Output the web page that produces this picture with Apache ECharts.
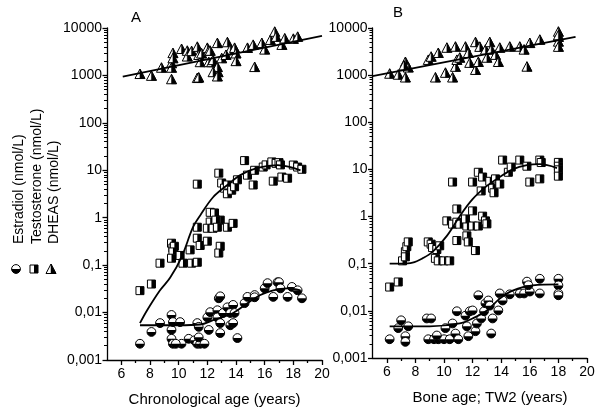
<!DOCTYPE html>
<html><head><meta charset="utf-8">
<script src="https://cdn.jsdelivr.net/npm/echarts@6/dist/echarts.min.js"></script>
<style>html,body{margin:0;padding:0;background:#fff}#c{width:600px;height:418px}</style>
</head><body><div id="c"></div>
<script>
// ---------- tick labels ----------
const yTickLabels = ['0,001', '0,01', '0,1', '1', '10', '100', '1000', '10000'];
const xTickValues = [6, 8, 10, 12, 14, 16, 18, 20];
const xMinorValues = [7, 9, 11, 13, 15, 17, 19];
const panelLabels = ['A', 'B'];
const xAxisNames = ['Chronological age (years)', 'Bone age; TW2 (years)'];
const legendNames = ['Estradiol (nmol/L)', 'Testosterone (nmol/L)', 'DHEAS (nmol/L)'];

// ---------- Panel A: chronological age ----------
const dheasA_age = [7.3,8.1,8.8,9.5,9.5,9.6,9.6,9.5,10.2,10.6,10.6,10.9,11.3,11.3,11.4,11.4,11.5,11.6,12.0,12.1,12.1,12.2,12.3,12.4,12.7,12.75,12.7,13.0,13.4,13.6,13.3,13.9,14.0,14.0,14.8,15.3,15.2,15.8,16.0,16.4,16.7,16.8,17.2,17.4,18.0,18.3,12.4,12.7];
const dheasA_val = [1070,980,1450,830,1800,2950,2300,1450,3600,3300,2500,3250,4000,880,900,2700,1900,2900,3800,3300,1900,3300,1900,2100,4800,1170,1500,2300,5000,3500,2700,3800,2900,2000,3800,1500,4400,4800,3500,5600,8300,6500,4400,6000,5900,6500,1170,950];

const testoA_age = [7.3,8.1,8.7,9.5,9.6,9.7,9.6,9.5,10.1,10.3,10.9,11.3,10.8,11.3,11.3,11.5,12.0,11.3,12.2,12.5,12.2,12.9,12.6,12.0,12.4,12.7,12.9,12.8,13.4,13.8,12.8,13.0,13.2,13.4,13.4,13.7,13.9,14.1,14.6,14.8,15.2,15.3,15.9,16.1,16.5,16.8,17.0,17.1,16.6,17.2,17.6,18.0,18.3,18.6];
const testoA_val = [0.029,0.040,0.11,0.29,0.23,0.25,0.19,0.14,0.16,0.11,0.11,0.115,0.21,0.63,0.37,0.26,0.32,5.1,1.3,1.26,0.81,0.89,0.89,0.6,0.6,0.63,0.25,0.18,0.63,0.76,8.7,5.4,4.2,4.9,3.2,3.8,4.5,6.3,16,7.9,4.9,10,11.7,13,15,14,14.5,13,5.9,7.2,6.8,12.9,11.7,10.5];

const estrA_age = [7.3,8.1,8.7,9.5,9.5,9.6,10.1,9.5,9.6,10.2,9.8,10.7,11.1,11.3,11.5,11.4,11.3,11.4,12.0,12.1,11.8,12.2,12.7,12.8,12.9,12.7,12.9,13.1,13.4,13.6,13.8,13.9,13.6,13.8,14.1,12.9,14.6,14.8,15.3,15.3,16.0,16.2,16.6,16.9,17.0,17.1,17.6,17.9,18.3,18.6];
const estrA_val = [0.0022,0.0039,0.006,0.0089,0.0043,0.0063,0.0063,0.0028,0.0022,0.0022,0.0022,0.0028,0.0026,0.0022,0.0022,0.003,0.006,0.005,0.0079,0.0043,0.0022,0.0102,0.0112,0.02,0.022,0.0079,0.006,0.0098,0.0129,0.0098,0.0145,0.0098,0.0054,0.006,0.0029,0.0037,0.0158,0.0214,0.0234,0.021,0.0324,0.0417,0.0214,0.0437,0.0437,0.0324,0.0214,0.0347,0.0295,0.02];

// fitted curves, panel A
const dheasFitA_age = [6.1, 20];
const dheasFitA_val = [940, 6800];
const testoFitA_age = [7.3,7.8,8.7,9.4,10.2,11.0,11.5,12.4,13.4,14.3,15.5,16.9,17.8,18.5];
const testoFitA_val = [0.006,0.0112,0.0295,0.054,0.148,0.63,1.12,2.7,4.9,7.9,11.2,12.9,11.7,10];
const estrFitA_age = [7.3,10.0,11.5,12.4,13.8,14.8,15.7,16.6,17.6,18.5];
const estrFitA_val = [0.0054,0.0054,0.0056,0.0069,0.0098,0.0158,0.0234,0.0295,0.0324,0.0295];

// ---------- Panel B: bone age ----------
const dheasB_age = [6.2,6.8,7.3,7.3,7.5,7.2,8.9,9.1,9.4,9.6,10.1,10.2,10.6,10.8,10.8,10.9,11.1,11.5,11.7,11.8,12.2,12.2,12.4,12.5,12.9,13.0,13.2,13.3,13.6,13.8,13.9,14.6,15.3,15.8,15.6,16.0,16.7,18.0,18.0,18.0,18.0,18.0];
const dheasB_val = [1070,1020,1900,890,1450,1600,2100,2450,890,2950,1120,3800,890,4000,1500,2100,2340,4000,2950,1820,5000,1290,1900,3980,3470,2340,5000,3470,2690,1900,3800,4000,4000,1510,3470,4790,5620,8320,6460,5130,3980,7000];

const testoB_age = [6.2,6.8,7.1,7.3,7.4,7.5,7.3,8.9,9.1,9.2,9.4,9.5,9.7,9.6,10.0,10.4,10.2,10.6,10.6,10.9,10.9,10.9,11.1,11.6,11.5,11.6,11.7,12.0,12.2,12.0,12.4,12.0,12.4,12.7,12.6,12.7,12.9,13.0,13.2,13.4,13.5,13.6,13.9,14.1,14.5,14.7,15.3,15.8,16.0,16.7,16.7,16.8,18.0,18.0,18.0,18.0];
const testoB_val = [0.032,0.041,0.115,0.18,0.23,0.29,0.14,0.29,0.26,0.22,0.13,0.2,0.24,0.115,0.115,0.115,0.81,5.4,0.69,1.45,0.76,0.31,0.69,0.63,0.89,0.39,0.29,1.32,0.19,0.63,0.63,5.4,8.7,6.9,3.5,1.02,0.81,0.7,5.6,4.0,3.2,6.3,4.9,15.8,8.7,11.2,15.8,11.7,5.4,6.3,15.8,14,14.1,11.7,9.8,7.2];

const estrB_age = [6.2,6.8,7.0,7.3,7.3,7.5,8.8,9.1,8.9,9.3,9.6,10.0,10.4,9.5,10.1,10.6,10.8,10.9,11.0,11.5,11.6,11.7,11.8,12.0,12.2,12.3,12.4,12.6,12.8,12.9,13.1,13.2,13.3,13.4,13.8,13.9,14.1,14.6,15.3,15.6,16.0,15.8,15.9,16.7,16.7,18.0,18.0,18.0,18.0];
const estrB_val = [0.0025,0.0043,0.0063,0.0029,0.0022,0.0047,0.0069,0.0069,0.0025,0.0025,0.0025,0.0025,0.0025,0.003,0.0043,0.0054,0.0033,0.0098,0.0025,0.0079,0.0047,0.0029,0.0098,0.0102,0.0037,0.0054,0.0214,0.0069,0.0098,0.0145,0.0166,0.0129,0.0033,0.0069,0.0102,0.0234,0.0166,0.0224,0.0234,0.0234,0.0257,0.0417,0.035,0.0479,0.0234,0.0479,0.0347,0.0234,0.0214];

// fitted curves, panel B
const dheasFitB_age = [5.0, 19.2];
const dheasFitB_val = [950, 6500];
const testoFitB_age = [6.2,7.0,7.8,8.5,9.2,10.2,11.1,12.0,13.0,13.9,14.8,15.8,16.7,17.9];
const testoFitB_val = [0.1,0.1,0.105,0.13,0.178,0.39,1.02,2.34,4.47,6.9,10,12.3,12.9,10.7];
const estrFitB_age = [6.2,9.0,11.1,12.0,13.0,13.9,14.8,16.2,18.0];
const estrFitB_val = [0.0047,0.0047,0.0054,0.0069,0.0102,0.0182,0.0269,0.0347,0.0363];

// ---------- helpers ----------
const FONT = '"Liberation Sans", Arial, sans-serif';
function zip(a, b) { return a.map((v, i) => [v, b[i]]); }

function buildMarker(kind, x, y) {
  if (kind === 'circle') {
    const r = 4.4;
    return { type: 'group', children: [
      { type: 'circle', shape: { cx: x, cy: y, r: r }, style: { fill: '#fff', stroke: '#000', lineWidth: 1 } },
      { type: 'sector', shape: { cx: x, cy: y, r0: 0, r: r, startAngle: 0, endAngle: Math.PI, clockwise: true }, style: { fill: '#000' } }
    ]};
  }
  if (kind === 'square') {
    const h = 4;
    return { type: 'group', children: [
      { type: 'rect', shape: { x: x - h, y: y - h, width: 2 * h, height: 2 * h }, style: { fill: '#fff', stroke: '#000', lineWidth: 1 } },
      { type: 'rect', shape: { x: x, y: y - h, width: h, height: 2 * h }, style: { fill: '#000' } }
    ]};
  }
  return { type: 'group', children: [
    { type: 'polygon', shape: { points: [[x, y - 5], [x - 5, y + 4.5], [x + 5, y + 4.5]] }, style: { fill: '#fff', stroke: '#000', lineWidth: 1 } },
    { type: 'polygon', shape: { points: [[x, y - 5], [x, y + 4.5], [x + 5, y + 4.5]] }, style: { fill: '#000', stroke: '#000', lineWidth: 0.5 } }
  ]};
}

function scatterSeries(kind, ages, vals, xIdx, yIdx) {
  return {
    type: 'custom', xAxisIndex: xIdx, yAxisIndex: yIdx, z: 2,
    data: zip(ages, vals),
    encode: { x: 0, y: 1 },
    renderItem: function (params, api) {
      const p = api.coord([api.value(0), api.value(1)]);
      return buildMarker(kind, p[0], p[1]);
    }
  };
}

function fitSeries(ages, vals, xIdx, yIdx) {
  return {
    type: 'line', xAxisIndex: xIdx, yAxisIndex: yIdx, z: 3,
    data: zip(ages, vals), smooth: 0.35, showSymbol: false, symbol: 'none',
    lineStyle: { color: '#000', width: 1.8 }
  };
}

const axisLineStyle = { color: '#000', width: 1.3 };

function xAxesFor(gridIndex, name) {
  return [
    { type: 'value', gridIndex, min: 5, max: 20, position: 'bottom',
      axisLine: { show: true, onZero: false, lineStyle: axisLineStyle },
      axisTick: { show: true, customValues: xTickValues, length: 5, lineStyle: axisLineStyle },
      axisLabel: { show: true, customValues: xTickValues, color: '#000', fontSize: 14, fontFamily: FONT, margin: 7 },
      splitLine: { show: false },
      name: name, nameLocation: 'middle', nameGap: 32,
      nameTextStyle: { color: '#000', fontSize: 15, fontFamily: FONT } },
    { type: 'value', gridIndex, min: 5, max: 20, position: 'bottom',
      axisLine: { show: false, onZero: false },
      axisTick: { show: true, customValues: xMinorValues, length: 3, lineStyle: axisLineStyle },
      axisLabel: { show: false }, splitLine: { show: false } }
  ];
}
function yAxisFor(gridIndex) {
  return { type: 'log', logBase: 10, gridIndex, min: 0.001, max: 10000, interval: 1, position: 'left',
    axisLine: { show: true, onZero: false, lineStyle: axisLineStyle },
    axisTick: { show: true, length: 4.5, lineStyle: axisLineStyle },
    minorTick: { show: true, splitNumber: 9, length: 3, lineStyle: { color: '#000', width: 1 } },
    axisLabel: { show: true, color: '#000', fontSize: 14, fontFamily: FONT, margin: 5,
      formatter: function (v) { return yTickLabels[Math.round(Math.log10(v)) + 3]; } },
    splitLine: { show: false }, minorSplitLine: { show: false } };
}

const legendGraphics = [];
const legendX = [19.5, 37.5, 54.5];
legendNames.forEach((t, i) => {
  legendGraphics.push({ type: 'text', x: legendX[i], y: 244, rotation: Math.PI / 2,
    style: { text: t, fontSize: 14, fontFamily: FONT, fill: '#000', align: 'left', verticalAlign: 'middle' } });
});
legendGraphics.push(buildMarker('circle', 16, 269));
legendGraphics.push(buildMarker('square', 34, 269));
legendGraphics.push(buildMarker('triangle', 51, 269));

const chart = echarts.init(document.getElementById('c'), null, { renderer: 'canvas' });
chart.setOption({
  backgroundColor: '#fff',
  animation: false,
  title: [
    { text: panelLabels[0], left: 126, top: 5, textStyle: { fontSize: 15, fontWeight: 'normal', color: '#000', fontFamily: FONT } },
    { text: panelLabels[1], left: 388, top: 0, textStyle: { fontSize: 15, fontWeight: 'normal', color: '#000', fontFamily: FONT } },
    { text: xAxisNames[1], left: 490, top: 390, textAlign: 'center', padding: 0,
      textStyle: { fontSize: 15, fontWeight: 'normal', color: '#000', fontFamily: FONT } }
  ],
  grid: [
    { left: 107, top: 28, width: 215, height: 332, containLabel: false },
    { left: 372.5, top: 28, width: 214.5, height: 330, containLabel: false }
  ],
  xAxis: [].concat(xAxesFor(0, xAxisNames[0]), xAxesFor(1, '')),
  yAxis: [yAxisFor(0), yAxisFor(1)],
  graphic: legendGraphics,
  series: [
    scatterSeries('triangle', dheasA_age, dheasA_val, 0, 0),
    scatterSeries('square', testoA_age, testoA_val, 0, 0),
    scatterSeries('circle', estrA_age, estrA_val, 0, 0),
    fitSeries(dheasFitA_age, dheasFitA_val, 0, 0),
    fitSeries(testoFitA_age, testoFitA_val, 0, 0),
    fitSeries(estrFitA_age, estrFitA_val, 0, 0),
    scatterSeries('triangle', dheasB_age, dheasB_val, 2, 1),
    scatterSeries('square', testoB_age, testoB_val, 2, 1),
    scatterSeries('circle', estrB_age, estrB_val, 2, 1),
    fitSeries(dheasFitB_age, dheasFitB_val, 2, 1),
    fitSeries(testoFitB_age, testoFitB_val, 2, 1),
    fitSeries(estrFitB_age, estrFitB_val, 2, 1)
  ]
});
</script>
</body></html>
